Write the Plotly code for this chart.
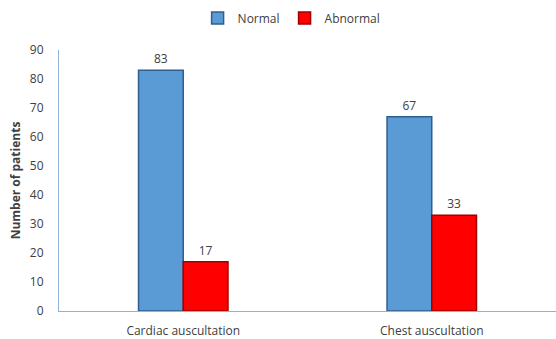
import plotly.graph_objects as go

categories = ["Cardiac auscultation", "Chest auscultation"]
normal = [83, 67]
abnormal = [17, 33]
y_ticks = [0, 10, 20, 30, 40, 50, 60, 70, 80, 90]

FONT = "Open Sans, Liberation Sans, sans-serif"
TXT = "#404040"

fig = go.Figure()
fig.add_trace(go.Bar(
    x=categories, y=normal, name="Normal",
    marker=dict(color="#5B9BD5", line=dict(color="#2F5F8F", width=1.5)),
    text=normal, textposition="outside",
    textfont=dict(family=FONT, size=12, color=TXT),
    cliponaxis=False,
))
fig.add_trace(go.Bar(
    x=categories, y=abnormal, name="Abnormal",
    marker=dict(color="#FF0000", line=dict(color="#A00000", width=1.5)),
    text=abnormal, textposition="outside",
    textfont=dict(family=FONT, size=12, color=TXT),
    cliponaxis=False,
))

fig.update_layout(
    width=556, height=339,
    margin=dict(l=59, r=0, t=50, b=28),
    paper_bgcolor="white", plot_bgcolor="white",
    barmode="group", bargap=0.64, bargroupgap=0,
    font=dict(family=FONT, size=12, color=TXT),
    legend=dict(
        orientation="h", x=0.468, xanchor="center", y=0.99, yanchor="top",
        yref="container", font=dict(family=FONT, size=12, color=TXT),
        itemwidth=30, tracegroupgap=0,
    ),
    showlegend=True,
)
fig.update_xaxes(
    showline=True, linecolor="#8DB3D9", linewidth=1,
    ticks="", ticklabelstandoff=9,
    tickfont=dict(family=FONT, size=12, color=TXT),
    showgrid=False,
)
fig.update_yaxes(
    range=[0, 90], tickvals=y_ticks,
    showline=True, linecolor="#8DB3D9", linewidth=1,
    ticks="", ticklabelstandoff=12, showgrid=False, zeroline=False,
    tickfont=dict(family=FONT, size=12, color=TXT),
    title=dict(text="<b>Number of patients</b>", font=dict(family=FONT, size=12, color=TXT), standoff=6),
)

fig.write_html("out.html")
